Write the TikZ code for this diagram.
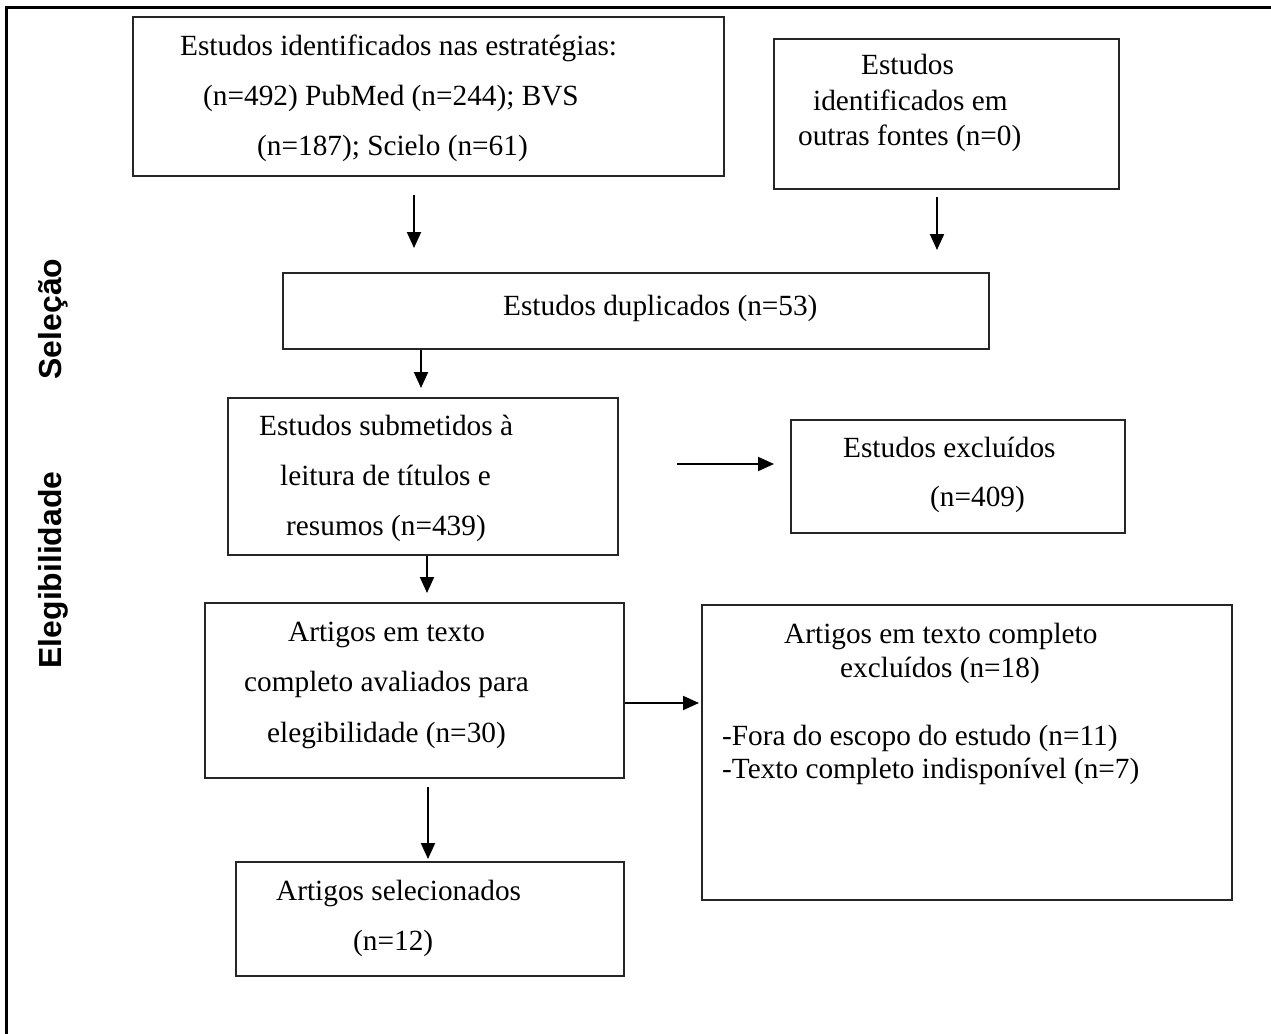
\documentclass[tikz,border=0pt]{standalone}
\usepackage{fontspec}
\setmainfont{Liberation Serif}
\newfontfamily\sidefont{Liberation Sans}
\usetikzlibrary{arrows.meta,fit}
\begin{document}
\begin{tikzpicture}[x=1bp,y=-1bp,
  box/.style={draw=black!85, line width=1.2bp, inner sep=0pt},
  txt/.style={anchor=base west, inner sep=0pt, font=\fontsize{29.4}{35}\selectfont},
  arr/.style={line width=2bp, -{Triangle[length=16bp,width=14bp]}},
  side/.style={rotate=90, anchor=base, inner sep=0pt, font=\sidefont\bfseries\fontsize{32}{38}\selectfont},
  frame/.style={line width=3bp}]
\useasboundingbox (0,0) rectangle (1271,1034);
\fill[white] (0,0) rectangle (1271,1034);
\draw[frame] (6.5,1034) -- (6.5,7.5) -- (1271,7.5);

% boxes
\node[box, fit={(133,17) (724,176)}] (b1) {};
\node[box, fit={(774,39) (1119,189)}] (b2) {};
\node[box, fit={(283,273) (989,349)}] (b3) {};
\node[box, fit={(228,398) (618,555)}] (b4) {};
\node[box, fit={(791,420) (1125,533)}] (b5) {};
\node[box, fit={(205,603) (624,778)}] (b6) {};
\node[box, fit={(702,605) (1232,900)}] (b7) {};
\node[box, fit={(236,862) (624,976)}] (b8) {};

% texts
\node[txt] (t1a) at (180,55) {Estudos identificados nas estratégias:};
\node[txt] (t1b) at (203,105) {(n=492) PubMed (n=244); BVS};
\node[txt] (t1c) at (257,155) {(n=187); Scielo (n=61)};

\node[txt] (t2a) at (861,74) {Estudos};
\node[txt] (t2b) at (813,110) {identificados em};
\node[txt] (t2c) at (798,145) {outras fontes (n=0)};

\node[txt] (t3) at (503,315) {Estudos duplicados (n=53)};

\node[txt] (t4a) at (259,435) {Estudos submetidos à};
\node[txt] (t4b) at (280,485) {leitura de títulos e};
\node[txt] (t4c) at (286,535) {resumos (n=439)};

\node[txt] (t5a) at (843,457) {Estudos excluídos};
\node[txt] (t5b) at (930,506) {(n=409)};

\node[txt] (t6a) at (288,641) {Artigos em texto};
\node[txt] (t6b) at (244,691) {completo avaliados para};
\node[txt] (t6c) at (267,742) {elegibilidade (n=30)};

\node[txt] (t7a) at (784,643) {Artigos em texto completo};
\node[txt] (t7b) at (840,677) {excluídos (n=18)};
\node[txt] (t7c) at (722,745) {-Fora do escopo do estudo (n=11)};
\node[txt] (t7d) at (722,778) {-Texto completo indisponível (n=7)};

\node[txt] (t8a) at (276,900) {Artigos selecionados};
\node[txt] (t8b) at (353,950) {(n=12)};

% side labels
\node[side] (s1) at (61,319) {Seleção};
\node[side] (s2) at (61,570) {Elegibilidade};

% arrow end points
\coordinate (a1s) at (414,195);
\coordinate (a1e) at (414,248);
\coordinate (a2s) at (937,197);
\coordinate (a2e) at (937,250);
\coordinate (a3e) at (421,388);
\coordinate (a4s) at (677,464);
\coordinate (a4e) at (774,464);
\coordinate (a5e) at (427,593);
\coordinate (a6e) at (699,703);
\coordinate (a7s) at (428,787);
\coordinate (a7e) at (428,859);

\draw[arr] (a1s) -- (a1e);
\draw[arr] (a2s) -- (a2e);
\draw[arr] (b3.south -| a3e) -- (a3e);
\draw[arr] (a4s) -- (a4e);
\draw[arr] (b4.south -| a5e) -- (a5e);
\draw[arr] (b6.east |- a6e) -- (a6e);
\draw[arr] (a7s) -- (a7e);
\end{tikzpicture}
\end{document}
